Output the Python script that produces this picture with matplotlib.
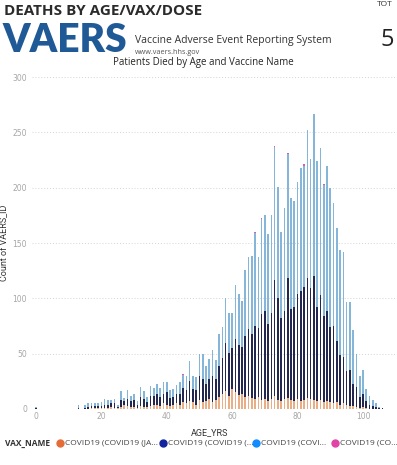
import numpy as np
import matplotlib
matplotlib.use("Agg")
import matplotlib.pyplot as plt
from matplotlib.lines import Line2D

# ages 0..106
ages = np.arange(0, 107)

janssen = [0, 0, 0, 0, 0, 0, 0, 0, 0, 0,
           0, 0, 0, 0, 0, 0, 0, 1, 1, 1,
           1, 1, 1, 2, 1, 1, 2, 4, 3, 2,
           2, 1, 3, 2, 2, 3, 4, 4, 3, 5,
           4, 3, 4, 5, 4, 6, 5, 7, 6, 4,
           8, 6, 7, 9, 6, 8, 11, 14, 16, 12,
           18, 15, 13, 14, 11, 12, 10, 9, 11, 8,
           9, 7, 9, 12, 8, 7, 9, 10, 8, 7,
           9, 7, 8, 10, 9, 8, 7, 8, 6, 7,
           6, 5, 6, 4, 5, 4, 3, 3, 2, 1,
           2, 1, 0, 0, 0, 0, 0]

moderna = [1, 0, 0, 0, 0, 0, 0, 0, 0, 0,
           0, 0, 0, 1, 0, 1, 2, 2, 2, 2,
           2, 3, 3, 3, 4, 1, 6, 3, 6, 5,
           6, 3, 8, 7, 4, 9, 8, 10, 8, 9,
           11, 7, 7, 9, 10, 13, 12, 18, 12, 13,
           22, 21, 16, 18, 24, 19, 28, 32, 44, 39,
           37, 48, 45, 42, 55, 60, 58, 66, 62, 78,
           80, 70, 78, 105, 92, 75, 80, 108, 82, 85,
           95, 100, 102, 108, 100, 112, 85, 95, 78, 82,
           68, 70, 55, 45, 42, 30, 32, 20, 18, 10,
           12, 6, 4, 3, 2, 1, 1]

pfizer = [1, 0, 0, 0, 0, 0, 0, 0, 0, 0,
          0, 0, 0, 3, 0, 3, 3, 2, 2, 2,
          3, 5, 4, 3, 4, 2, 8, 3, 8, 5,
          6, 3, 9, 7, 5, 9, 7, 9, 8, 10,
          9, 7, 7, 8, 10, 12, 13, 18, 12, 12,
          20, 23, 16, 18, 23, 17, 29, 28, 40, 36,
          32, 49, 46, 42, 60, 65, 70, 84, 64, 86,
          86, 81, 88, 120, 101, 78, 93, 112, 101, 96,
          101, 111, 110, 134, 117, 147, 132, 133, 118, 131,
          126, 111, 103, 95, 95, 63, 62, 48, 30, 19,
          21, 11, 8, 5, 3, 1, 0]

unknown = [0] * 107
for a in [45, 67, 69, 73, 77, 82, 88]:
    unknown[a] = 1

x_ticks = [0, 20, 40, 60, 80, 100]
y_ticks = [0, 50, 100, 150, 200, 250, 300]

legend_labels = ["COVID19 (COVID19 (JA...", "COVID19 (COVID19 (...",
                 "COVID19 (COVI...", "COVID19 (CO..."]
legend_colors = ["#E66C37", "#12239E", "#118DFF", "#E044A7"]
bar_colors = ["#E9AE86", "#23264F", "#86B5DA", "#D65FB4"]

W, H = 397, 465
fig = plt.figure(figsize=(W / 100, H / 100), dpi=100)
fig.patch.set_facecolor("white")


def fx(px):
    return px / W


def fy(py):
    return 1 - py / H


ax = fig.add_axes([fx(32), fy(409), fx(395) - fx(32), fy(77) - fy(409)])

series = [janssen, moderna, pfizer, unknown]
bottom = np.zeros(len(ages))
for vals, col in zip(series, bar_colors):
    vals = np.array(vals)
    ax.bar(ages, vals, bottom=bottom, width=0.5, color=col, linewidth=0)
    bottom += vals

ax.set_xlim(-1.22, 109.8)
ax.set_ylim(0, 300)
ax.set_xticks(x_ticks)
ax.set_yticks(y_ticks)
ax.tick_params(length=0, labelsize=5.5, labelcolor="#A6A6A6")
ax.tick_params(axis="y", pad=3.5)
ax.tick_params(axis="x", pad=2)
for s in ax.spines.values():
    s.set_visible(False)
ax.grid(axis="y", color="#D3D3D3", linestyle=(0, (1, 2)), linewidth=0.7)
ax.set_axisbelow(True)

ax.set_ylabel("Count of VAERS_ID", fontsize=6.5, color="#333333", family="Roboto")
ax.yaxis.set_label_coords(-0.066, 0.5)
ax.set_xlabel("AGE_YRS", fontsize=6.5, color="#333333", family="Roboto")
ax.xaxis.set_label_coords(0.49, -0.057)

# header
fig.text(fx(4), fy(11), "DEATHS BY AGE/VAX/DOSE", fontsize=11, fontweight="bold",
         family="Open Sans", color="#2B2B2B", va="center", ha="left")
fig.text(fx(377), fy(5), "TOT", fontsize=6, family="Open Sans",
         color="#333333", va="center", ha="left")
fig.text(fx(380), fy(40), "5", fontsize=17, family="Open Sans",
         color="#222222", va="center", ha="left")
fig.text(fx(2), fy(40), "VAERS", fontsize=28, fontweight="heavy", family="Lato",
         color="#1F5A96", va="center", ha="left")
fig.text(fx(135), fy(40), "Vaccine Adverse Event Reporting System", fontsize=7.5,
         family="Open Sans", color="#333333", va="center", ha="left")
fig.text(fx(135), fy(52), "www.vaers.hhs.gov", fontsize=5.2,
         family="Open Sans", color="#555555", va="center", ha="left")
fig.text(fx(203), fy(62), "Patients Died by Age and Vaccine Name", fontsize=7,
         family="Open Sans", color="#252423", va="center", ha="center")

# legend
ly = fy(443)
fig.text(fx(5), ly, "VAX_NAME", fontsize=6, fontweight="bold", family="Open Sans",
         color="#333333", va="center", ha="left")
for px, lab, col in zip([60, 163, 256, 335], legend_labels, legend_colors):
    fig.add_artist(Line2D([fx(px)], [ly], marker="o", markersize=5, color=col,
                          linestyle="none", transform=fig.transFigure))
    fig.text(fx(px + 5), ly, lab, fontsize=6, family="Open Sans",
             color="#444444", va="center", ha="left")

fig.savefig("out.png", dpi=100, facecolor="white")
